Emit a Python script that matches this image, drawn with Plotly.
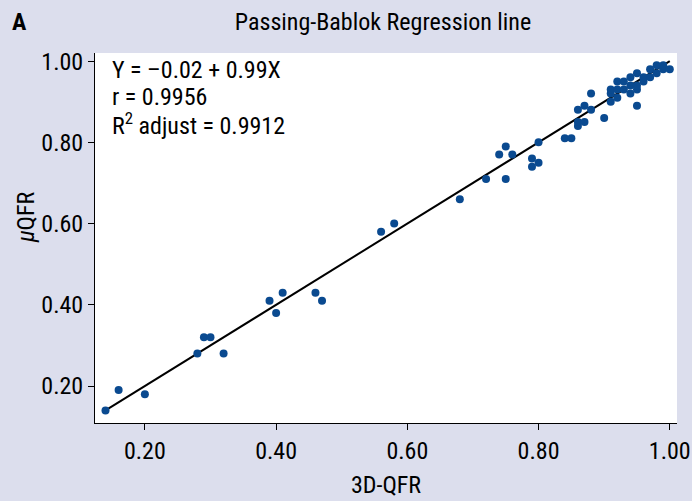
import plotly.graph_objects as go

# Data
x_3dqfr = [0.14, 0.16, 0.20, 0.28, 0.29, 0.30, 0.32, 0.39, 0.40, 0.41, 0.46, 0.47,
           0.56, 0.58, 0.68, 0.72, 0.74, 0.75, 0.75, 0.76, 0.79, 0.79, 0.80, 0.80,
           0.84, 0.85, 0.86, 0.86, 0.87, 0.86, 0.87, 0.88, 0.88, 0.90, 0.91, 0.91,
           0.91, 0.92, 0.92, 0.92, 0.93, 0.93, 0.94, 0.94, 0.94, 0.95, 0.95, 0.95,
           0.95, 0.96, 0.96, 0.97, 0.97, 0.98, 0.98, 0.99, 0.99, 1.00]
y_uqfr = [0.14, 0.19, 0.18, 0.28, 0.32, 0.32, 0.28, 0.41, 0.38, 0.43, 0.43, 0.41,
          0.58, 0.60, 0.66, 0.71, 0.77, 0.79, 0.71, 0.77, 0.76, 0.74, 0.75, 0.80,
          0.81, 0.81, 0.84, 0.85, 0.85, 0.88, 0.89, 0.88, 0.92, 0.86, 0.90, 0.92,
          0.93, 0.91, 0.93, 0.95, 0.93, 0.95, 0.92, 0.94, 0.96, 0.89, 0.93, 0.94,
          0.97, 0.95, 0.96, 0.96, 0.98, 0.97, 0.99, 0.98, 0.99, 0.98]

line_x = [0.14, 1.00]
line_y = [0.14, 1.00]

tick_vals = [0.2, 0.4, 0.6, 0.8, 1.0]
tick_text = ["0.20", "0.40", "0.60", "0.80", "1.00"]

stats_lines = ["Y = \u20130.02 + 0.99X", "r = 0.9956", "R<sup>2</sup> adjust = 0.9912"]

FONT = "Liberation Sans Narrow, Roboto Condensed, Arial Narrow, Liberation Sans, sans-serif"

fig = go.Figure()
fig.add_trace(go.Scatter(x=line_x, y=line_y, mode="lines",
                         line=dict(color="black", width=2), showlegend=False, hoverinfo="skip"))
fig.add_trace(go.Scatter(x=x_3dqfr, y=y_uqfr, mode="markers",
                         marker=dict(color="#0a4a90", size=8), showlegend=False))

L, R, T, B = 95, 15, 53, 78
W, H = 692, 501
PW, PH = W - L - R, H - T - B
fig.update_layout(
    width=W, height=H,
    margin=dict(l=L, r=R, t=T, b=B, autoexpand=False),
    paper_bgcolor="#dcdeed",
    plot_bgcolor="white",
    font=dict(family=FONT, size=24, color="black"),
    title=dict(text="Passing-Bablok Regression line", x=(383) / W, xanchor="center",
               y=1 - 22 / H, yanchor="middle", font=dict(size=24, family=FONT)),
)
fig.update_xaxes(range=[0.124, 1.011], tickvals=tick_vals, ticktext=tick_text,
                 automargin=False,
                 showgrid=False, zeroline=False, showline=True, linecolor="black", linewidth=1,
                 ticks="outside", ticklen=6, tickcolor="black",
                 tickfont=dict(size=24, family=FONT),
                 title=dict(text="3D-QFR", font=dict(size=24, family=FONT), standoff=12))
fig.update_yaxes(range=[0.109, 1.02], tickvals=tick_vals, ticktext=tick_text,
                 automargin=False,
                 showgrid=False, zeroline=False, showline=True, linecolor="black", linewidth=1,
                 ticks="outside", ticklen=6, tickcolor="black",
                 tickfont=dict(size=24, family=FONT))

# y-axis title placed close to the tick labels, as in the reference
fig.add_annotation(text="<i>\u03bc</i>QFR", xref="paper", yref="paper",
                   x=(26 - L) / PW, y=(H - B - 217) / PH, xanchor="center", yanchor="middle",
                   textangle=-90, showarrow=False, font=dict(size=24, family=FONT))

for txt, ypx in zip(stats_lines, [70, 97, 124]):
    fig.add_annotation(text=txt, xref="paper", yref="paper", x=(110 - L) / PW,
                       y=(H - B - ypx) / PH, xanchor="left", yanchor="middle",
                       showarrow=False, font=dict(size=24, family=FONT))

fig.add_annotation(text="<b>A</b>", xref="paper", yref="paper", x=(10 - L) / PW,
                   y=(H - B - 22) / PH, xanchor="left", yanchor="middle",
                   showarrow=False, font=dict(size=24, family=FONT))

fig.write_html("out.html", config={"displayModeBar": False},
               post_script="document.body.style.margin='0';")
